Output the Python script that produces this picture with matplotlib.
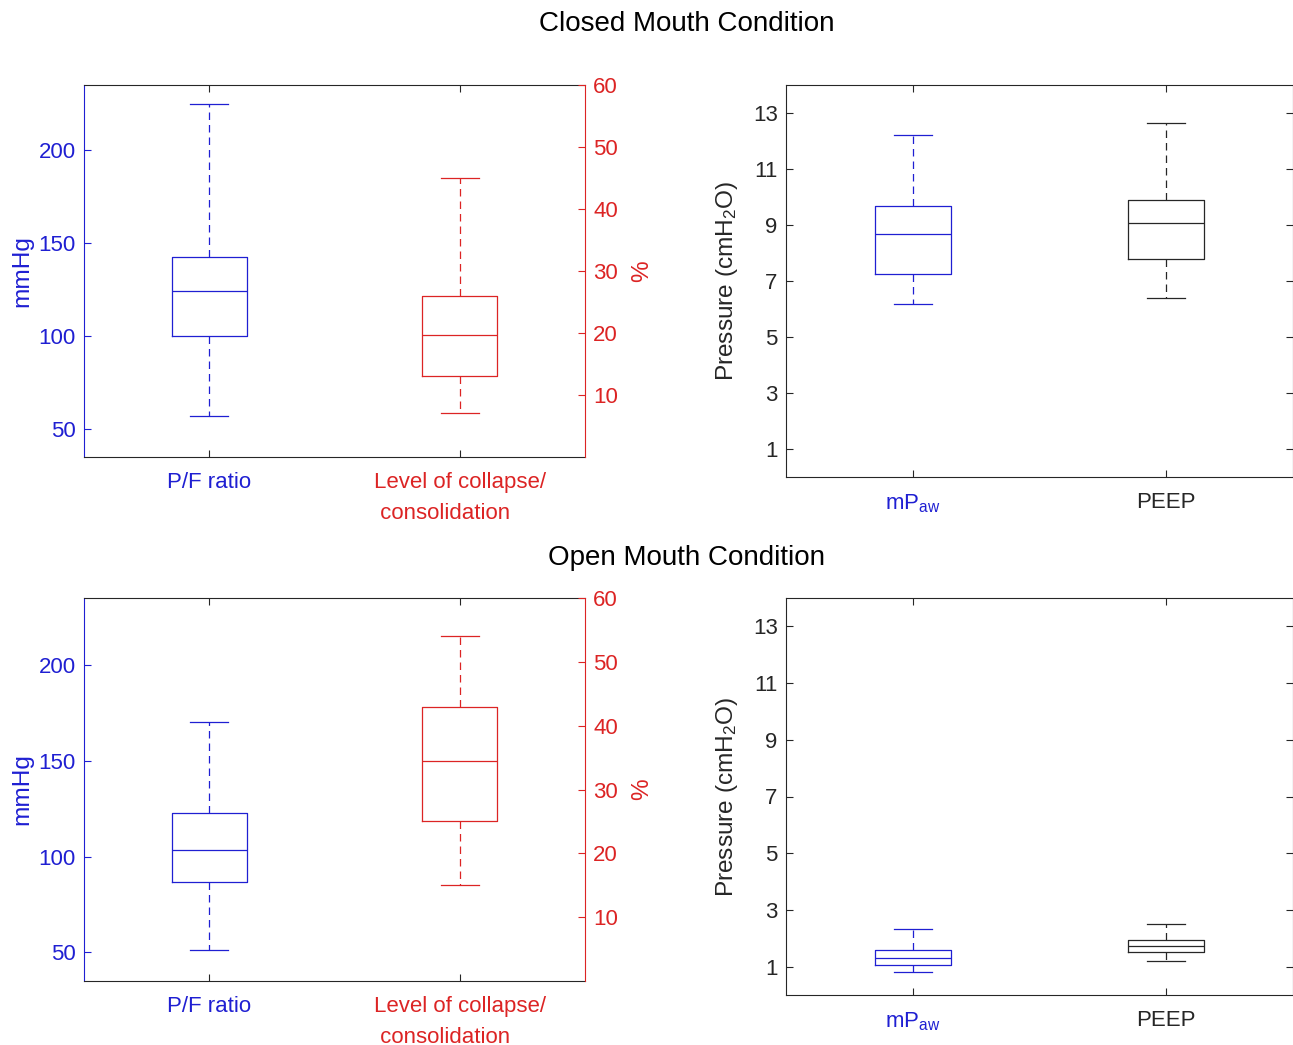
import matplotlib
matplotlib.use('Agg')
import matplotlib.pyplot as plt

plt.rcParams['font.family'] = ['Liberation Sans', 'DejaVu Sans']
plt.rcParams['mathtext.fontset'] = 'custom'
plt.rcParams['mathtext.rm'] = 'Liberation Sans'
plt.rcParams['mathtext.it'] = 'Liberation Sans:italic'
plt.rcParams['mathtext.bf'] = 'Liberation Sans:bold'

# ---------------- data (five-number summaries: low whisker, Q1, median, Q3, high whisker)
conditions = ['Closed Mouth Condition', 'Open Mouth Condition']
pf_ratio = [[57, 100, 124, 142.5, 225], [51, 86.5, 103.6, 122.8, 170.4]]
collapse = [[7.1, 13.1, 19.6, 26.0, 45.0], [15.1, 25.1, 34.5, 43.0, 54.1]]
mpaw = [[6.19, 7.26, 8.67, 9.67, 12.2], [0.81, 1.07, 1.32, 1.60, 2.33]]
peep = [[6.41, 7.79, 9.08, 9.90, 12.63], [1.19, 1.52, 1.72, 1.93, 2.49]]

left_labels = ['P/F ratio', 'Level of collapse/\n consolidation']
right_labels = [r'mP$_{\mathrm{aw}}$', 'PEEP']
mmhg_ticks = [50, 100, 150, 200]
pct_ticks = [10, 20, 30, 40, 50, 60]
pressure_ticks = [1, 3, 5, 7, 9, 11, 13]

BLUE = '#1f1fd2'
RED = '#dc2424'
DARK = '#262626'
FS = 16
LFS = 17.6

W, H = 1293, 1045
fig = plt.figure(figsize=(W / 100, H / 100), dpi=100)


def stats(v):
    return dict(whislo=v[0], q1=v[1], med=v[2], q3=v[3], whishi=v[4], fliers=[])


def draw_box(ax, vals, pos, color):
    lw = 0.9
    ax.bxp([stats(vals)], positions=[pos], widths=0.3, showfliers=False,
           manage_ticks=False,
           boxprops=dict(color=color, lw=lw),
           whiskerprops=dict(color=color, lw=lw, linestyle=(0, (6, 4))),
           capprops=dict(color=color, lw=lw),
           medianprops=dict(color=color, lw=lw))


def px_rect(left, top, right, bottom):
    return [left / W, 1 - bottom / H, (right - left) / W, (bottom - top) / H]


left_rects = [px_rect(84, 85, 585, 457), px_rect(84, 598, 585, 981)]
right_rects = [px_rect(786, 85, 1293, 477), px_rect(786, 598, 1293, 995)]
title_y = [24, 558]

for i in range(2):
    # ---------- left panel with two y axes
    ax = fig.add_axes(left_rects[i])
    ax2 = ax.twinx()
    draw_box(ax, pf_ratio[i], 1, BLUE)
    draw_box(ax2, collapse[i], 2, RED)
    ax.set_xlim(0.5, 2.5)
    ax.set_ylim(35, 235)
    ax2.set_ylim(0, 60)
    ax.set_yticks(mmhg_ticks)
    ax2.set_yticks(pct_ticks)
    ax.set_xticks([1, 2])
    ax.set_xticklabels(left_labels, fontsize=FS, linespacing=1.62, va='top',
                       multialignment='left')
    for lab, c in zip(ax.get_xticklabels(), [BLUE, RED]):
        lab.set_color(c)
    ax.tick_params(axis='x', direction='in', top=True, bottom=True, length=5,
                   width=0.8, pad=10.5, color=DARK)
    ax.tick_params(axis='y', direction='in', left=True, right=False, length=5,
                   width=0.8, pad=6, colors=BLUE, labelsize=FS)
    ax2.tick_params(axis='y', direction='in', right=True, left=False, length=5,
                    width=0.8, pad=6, colors=RED, labelsize=FS)
    for s in ['top', 'bottom']:
        ax.spines[s].set_color(DARK)
        ax.spines[s].set_linewidth(0.8)
    ax.spines['left'].set_color(BLUE)
    ax.spines['left'].set_linewidth(0.8)
    ax.spines['right'].set_visible(False)
    for s in ['left', 'top', 'bottom']:
        ax2.spines[s].set_visible(False)
    ax2.spines['right'].set_color(RED)
    ax2.spines['right'].set_linewidth(0.8)
    ax.set_ylabel('mmHg', color=BLUE, fontsize=LFS, labelpad=4)
    ax2.set_ylabel('%', color=RED, fontsize=LFS, labelpad=9)

    # ---------- right panel: pressures
    axr = fig.add_axes(right_rects[i])
    draw_box(axr, mpaw[i], 1, BLUE)
    draw_box(axr, peep[i], 2, DARK)
    axr.set_xlim(0.5, 2.5)
    axr.set_ylim(0, 14)
    axr.set_yticks(pressure_ticks)
    axr.set_xticks([1, 2])
    axr.set_xticklabels(right_labels, fontsize=FS)
    for lab, c in zip(axr.get_xticklabels(), [BLUE, DARK]):
        lab.set_color(c)
    axr.tick_params(axis='x', direction='in', top=True, bottom=True, length=5,
                    width=0.8, pad=11, color=DARK)
    axr.tick_params(axis='y', direction='in', left=True, right=True, length=5,
                    width=0.8, pad=6, colors=DARK, labelsize=FS)
    for s in axr.spines.values():
        s.set_color(DARK)
        s.set_linewidth(0.8)
    axr.set_ylabel(r'Pressure (cmH$_{\mathrm{2}}$O)', color=DARK, fontsize=LFS,
                   labelpad=9)

    fig.text(687 / W, 1 - title_y[i] / H, conditions[i], ha='center', va='center',
             fontsize=20, color='black')

fig.savefig('out.png', dpi=100)
